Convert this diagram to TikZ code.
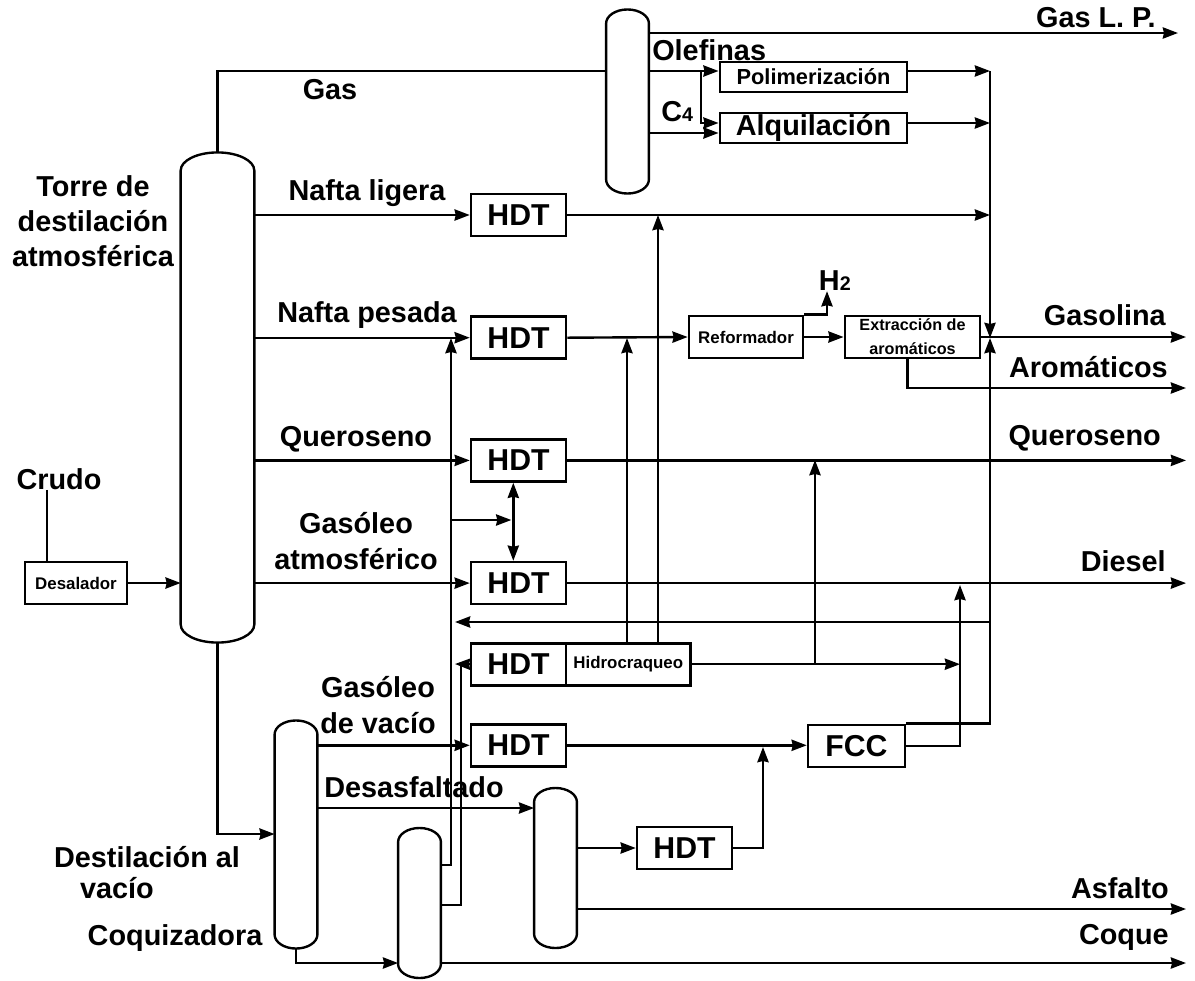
\documentclass[tikz,border=0pt]{standalone}
\usepackage{fontspec}
\setmainfont{Liberation Sans}
\usepackage{tikz}
\usetikzlibrary{positioning, arrows.meta}

\begin{document}
\begin{tikzpicture}[
  x=0.025cm, y=-0.025cm,
  proceso/.style={rectangle, draw, line width=1.9pt, minimum width=2.37cm, minimum height=1.05cm, inner sep=0pt, text centered, font=\fontsize{21.5}{24}\selectfont\bfseries},
  cajachica/.style={proceso, font=\fontsize{12}{15}\selectfont\bfseries},
  torre/.style n args={3}{rectangle, inner sep=0pt, outer sep=0pt, minimum width=#1, minimum height=#2,
    append after command={\pgfextra{\let\torrenodo\tikzlastnode
      \draw[line width=1.7pt] ([yshift=-#3]\torrenodo.north west) arc[start angle=180, end angle=0, x radius=#1/2, y radius=#3]
        -- ([yshift=#3]\torrenodo.south east) arc[start angle=0, end angle=-180, x radius=#1/2, y radius=#3] -- cycle;}}},
  etiqueta/.style={font=\fontsize{20.5}{25}\selectfont\bfseries, inner sep=0pt, align=center},
  linea/.style={line width=1.7pt},
  arrow/.style={linea, -{Stealth[length=0.38cm, width=0.28cm, inset=0.03cm]}},
  dobleflecha/.style={linea, {Stealth[length=0.38cm, width=0.28cm, inset=0.03cm]}-{Stealth[length=0.38cm, width=0.28cm, inset=0.03cm]}}
]
\useasboundingbox (0,0) rectangle (1195,980);

%% Towers
\node[torre={1.84cm}{12.25cm}{0.45cm}] (atm) at (217.5,397.5) {};
\node[torre={1.07cm}{4.6cm}{0.35cm}] (ligeros) at (627.5,101.5) {};
\node[torre={1.07cm}{5.7cm}{0.35cm}] (vacio) at (296,834.5) {};
\node[torre={1.07cm}{3.75cm}{0.35cm}] (coquiz) at (419.5,903) {};
\node[torre={1.07cm}{4cm}{0.35cm}] (desasf) at (555.5,868) {};

%% HDT column
\node[proceso] (hdtA) at (518.5,215) {HDT};
\node[proceso, below=1.95cm of hdtA] (hdtB) {HDT};
\node[proceso, below=1.95cm of hdtB] (hdtC) {HDT};
\node[proceso, below=1.95cm of hdtC] (hdtD) {HDT};
\node[proceso, below=0.91cm of hdtD] (hdtE) {HDT};
\node[proceso, below=0.91cm of hdtE] (hdtF) {HDT};
\node[cajachica, right=-1.9pt of hdtE, minimum width=3.12cm] (hidro) {Hidrocraqueo};
\node[proceso] (hdtG) at (684.5,848) {HDT};
\node[proceso, minimum width=2.42cm] (fcc) at (856.5,746) {FCC};

%% Right hand units
\node[cajachica, minimum width=4.68cm, minimum height=0.75cm, font=\fontsize{15.5}{18}\selectfont\bfseries] (poli) at (813.5,77) {Polimerización};
\node[proceso, minimum width=4.68cm, minimum height=0.75cm, font=\fontsize{20.5}{22}\selectfont\bfseries] (alqui) at (813.5,128) {Alquilación};
\node[cajachica, minimum width=2.85cm] (refor) at (746,337) {Reformador};
\node[cajachica, minimum width=3.38cm, font=\fontsize{11.5}{17}\selectfont\bfseries, align=center] (extra) at (912.5,337) {Extracción de\\aromáticos};
\node[cajachica, minimum width=2.55cm] (desal) at (76,583) {Desalador};

%% Labels
\node[etiqueta] (crudo) at (59,479) {Crudo};
\node[etiqueta] at (93,221) {Torre de\\destilación\\atmosférica};
\node[etiqueta] at (330,90) {Gas};
\node[etiqueta, anchor=west] at (652,50) {Olefinas};
\node[etiqueta, anchor=west] at (661,112) {C{\fontsize{14}{14}\selectfont 4}};
\node[etiqueta] at (367,193) {Nafta ligera};
\node[etiqueta] at (367,315) {Nafta pesada};
\node[etiqueta] at (356,439) {Queroseno};
\node[etiqueta] at (356,541) {Gasóleo\\atmosférico};
\node[etiqueta] at (378,705) {Gasóleo\\de vacío};
\node[etiqueta] at (414,787) {Desasfaltado};
\node[etiqueta] at (147,857) {Destilación al};
\node[etiqueta] at (117,888) {vacío};
\node[etiqueta] at (175,938) {Coquizadora};
\node[etiqueta, anchor=east] (hdos) at (851,281) {H{\fontsize{14}{14}\selectfont 2}};
\node[etiqueta, anchor=east] at (1156,18) {Gas L. P.};
\node[etiqueta, anchor=east] at (1166,315) {Gasolina};
\node[etiqueta, anchor=east] at (1168,367) {Aromáticos};
\node[etiqueta, anchor=east] at (1161,438) {Queroseno};
\node[etiqueta, anchor=east] at (1166,561) {Diesel};
\node[etiqueta, anchor=east] at (1169,888) {Asfalto};
\node[etiqueta, anchor=east] at (1169,937) {Coque};

%% Free ends
\coordinate (colector) at (990,338);
\coordinate (retorno) at (455,622);
\coordinate (entA) at (451,338);
\coordinate (entB) at (461,664);
\coordinate (rama) at (451,520);
\coordinate (nodoH) at (960,664);
\coordinate (nodoF) at (763,747);
\coordinate (nivelP) at (701,71);
\coordinate (nivelA) at (701,123);
\coordinate (sGas) at (1178,33);
\coordinate (sGasolina) at (1186,338);
\coordinate (sArom) at (1186,388);
\coordinate (sQuer) at (1186,460);
\coordinate (sDiesel) at (1186,583);
\coordinate (sAsf) at (1186,909);
\coordinate (sCoq) at (1186,963);

%% Top of the plant
\draw[linea] (atm.north) |- (ligeros.west |- nivelP);
\draw[arrow] (ligeros.east |- nivelP) -- (poli.west |- nivelP);
\draw[arrow] (nivelP) |- (alqui.west |- nivelA);
\draw[arrow] (ligeros.east |- 0,133) -- (alqui.west |- 0,133);
\draw[arrow] (ligeros.east |- sGas) -- (sGas);
\draw[arrow] (poli.east |- nivelP) -- (colector |- nivelP);
\draw[arrow] (alqui.east |- nivelA) -- (colector |- nivelA);

%% Atmospheric cuts
\draw[arrow] (atm.east |- hdtA) -- (hdtA.west);
\draw[arrow] (atm.east |- hdtB) -- (hdtB.west);
\draw[arrow] (atm.east |- hdtC) -- (hdtC.west);
\draw[arrow] (atm.east |- hdtD) -- (hdtD.west);
\draw[linea] (crudo.south -| 47,0) -- (desal.north -| 47,0);
\draw[arrow] (desal.east) -- (atm.west |- desal);
\draw[arrow] (hdtA.east) -- (hdtA.east -| colector);
\draw[arrow] (hdtB.east) -- (refor.west);
\draw[arrow] (hdtC.east) -- (hdtC.east -| sQuer);
\draw[arrow] (hdtD.east) -- (hdtD.east -| sDiesel);
\draw[dobleflecha] ([xshift=-0.13cm]hdtC.south) -- ([xshift=-0.13cm]hdtD.north);
\draw[arrow] (rama) -- ([xshift=-0.18cm]rama -| hdtC.south);

%% Gasoline section
\draw[arrow] (refor.east) -- (extra.west);
\draw[arrow] (refor.north east) -| (hdos.south -| 827,0);
\draw[arrow] (extra.east) -- (extra.east -| sGasolina);
\draw[arrow] ([xshift=-0.13cm]extra.south) |- (sArom);
\draw[arrow] (colector |- nivelP) -- (colector);
\draw[arrow] (fcc.north east) -| (colector);
\draw[arrow] (colector |- retorno) -- (retorno);

%% Hydrocracker
\draw[arrow] (hidro.north -| 627,0) -- (627,338);
\draw[arrow] (hidro.north -| 658,0) -- (658,215);
\draw[arrow] (hidro.east) -- (hidro.east -| nodoH);
\draw[arrow] (hidro.east -| 815,0) -- (815,460);

%% Vacuum section
\draw[arrow] (atm.south) |- (vacio.west |- 0,834);
\draw[arrow] (vacio.east |- hdtF) -- (hdtF.west);
\draw[arrow] (hdtF.east) -- (fcc.west |- hdtF);
\draw[arrow] (fcc.east) -| (960,585);
\draw[arrow] (vacio.east |- 0,808) -- (desasf.west |- 0,808);
\draw[arrow] (vacio.south) |- (coquiz.west |- 0,963);
\draw[arrow] (coquiz.east |- 0,865) -| (entA);
\draw[linea] (coquiz.east |- 0,905) -| (entB);
\draw[arrow] (hdtE.west) -- (455,664);
\draw[arrow] (coquiz.east |- sCoq) -- (sCoq);
\draw[arrow] (desasf.east |- hdtG) -- (hdtG.west);
\draw[arrow] (hdtG.east) -| (nodoF);
\draw[arrow] (desasf.east |- sAsf) -- (sAsf);

\end{tikzpicture}
\end{document}
